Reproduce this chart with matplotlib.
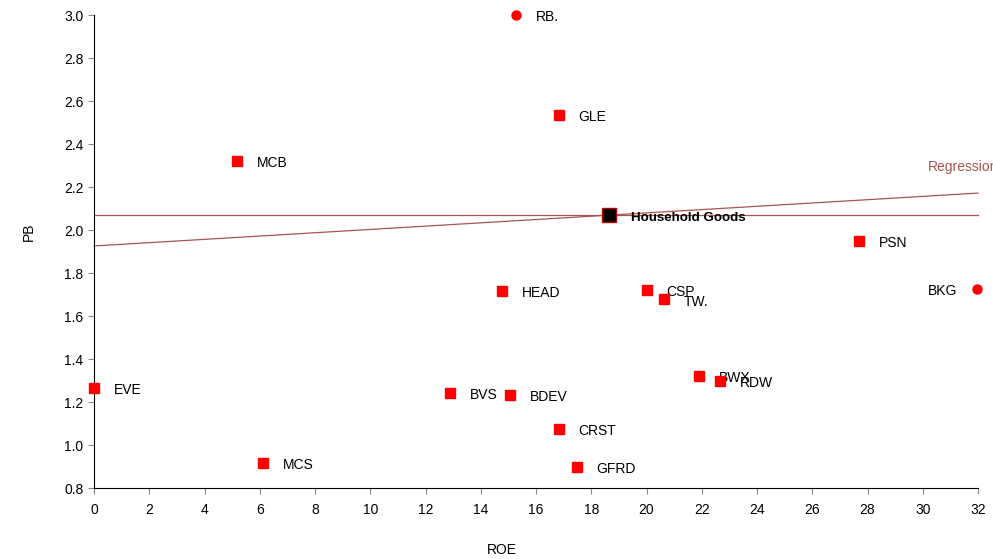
import matplotlib.pyplot as plt

plt.rcParams["font.family"] = ["Liberation Sans", "DejaVu Sans"]

names = ["RB.", "GLE", "MCB", "PSN", "BKG", "HEAD", "CSP", "TW.", "BWX", "RDW",
         "EVE", "BVS", "BDEV", "CRST", "GFRD", "MCS"]
roe = [15.28, 16.83, 5.18, 27.69, 31.96, 14.77, 20.02, 20.63, 21.9, 22.66,
       0.0, 12.89, 15.06, 16.83, 17.48, 6.12]
pb = [3.0, 2.535, 2.321, 1.949, 1.726, 1.716, 1.72, 1.677, 1.321, 1.298,
      1.265, 1.242, 1.233, 1.074, 0.898, 0.916]
circles = ["RB.", "BKG"]

sector_name = "Household Goods"
sector_roe = 18.64
sector_pb = 2.07

reg_x = [0, 32]
reg_y = [1.926, 2.172]

line_col = "#a5564f"

fig = plt.figure(figsize=(9.93, 5.59), dpi=100)
ax = fig.add_axes([0.0947, 0.127, 0.8902, 0.846])

ax.plot(reg_x, reg_y, color=line_col, lw=0.9, clip_on=False)
ax.plot(reg_x, [sector_pb, sector_pb], color=line_col, lw=0.9, clip_on=False)

for n, x, y in zip(names, roe, pb):
    m = "o" if n in circles else "s"
    ax.plot(x, y, marker=m, color="#ff0000", markersize=6.5, ls="none",
            clip_on=False, zorder=3)
    if n == "BKG":
        ax.annotate(n, (x, y), xytext=(-14, -1.5), textcoords="offset points",
                    ha="right", va="center", fontsize=10)
    else:
        ax.annotate(n, (x, y), xytext=(14, -1.5), textcoords="offset points",
                    ha="left", va="center", fontsize=10)

ax.plot(sector_roe, sector_pb, marker="s", color="black", markeredgecolor="#c00000",
        markersize=10, ls="none", clip_on=False, zorder=4)
ax.annotate(sector_name, (sector_roe, sector_pb), xytext=(16, -2),
            textcoords="offset points", ha="left", va="center", fontsize=9.6,
            fontweight="bold")

ax.text(30.2, 2.275, "Regression", color=line_col, fontsize=10, clip_on=False)

ax.set_xlim(0, 32)
ax.set_ylim(0.8, 3.0)
ax.set_xticks(range(0, 33, 2))
ax.set_yticks([0.8 + 0.2 * i for i in range(12)])
ax.set_yticklabels([f"{0.8 + 0.2 * i:.1f}" for i in range(12)])
ax.spines["top"].set_visible(False)
ax.spines["right"].set_visible(False)
ax.tick_params(direction="out", length=4, color="#888888", labelsize=10)
ax.tick_params(axis="x", pad=7)
ax.set_xlabel("ROE", fontsize=10)
ax.set_ylabel("PB", fontsize=10)
ax.xaxis.set_label_coords(0.4615, -0.117)
ax.yaxis.set_label_coords(-0.066, 0.541)

fig.savefig("out.png", dpi=100)
